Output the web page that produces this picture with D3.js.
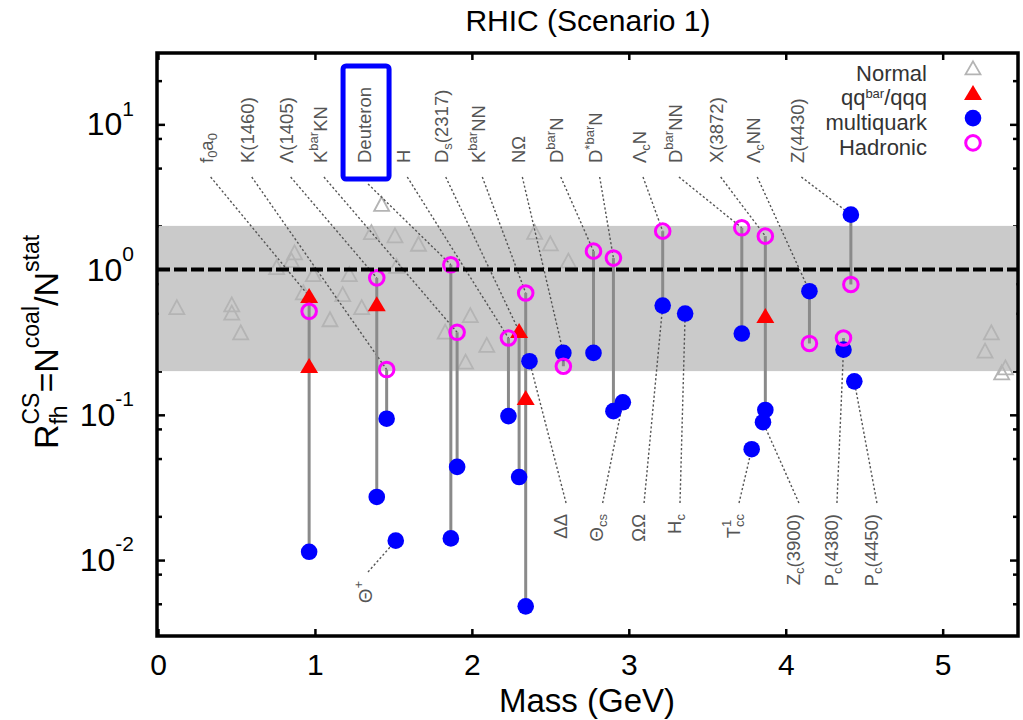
<!DOCTYPE html>
<html><head><meta charset="utf-8">
<script src="https://cdn.jsdelivr.net/npm/d3@7"></script>
<style>
body{margin:0;background:#fff}
svg{display:block}
text{font-family:"Liberation Sans",Arial,Helvetica,sans-serif}
</style>
</head><body>
<svg id="c" width="1023" height="720"></svg>
<script>
// ---------------- DATA ----------------
const chartTitle = "RHIC (Scenario 1)";
const xAxisTitle = "Mass (GeV)";
const yAxisTitle = "R_{fh}^{CS}=N^{coal}/N^{stat}";
const xTickValues = [0,1,2,3,4,5];
const yMajorTickValues = [0.01,0.1,1,10];
const yTickLabels = ["10^{-2}","10^{-1}","10^{0}","10^{1}"];
const yMinorTickValues = [0.005,0.008,0.02,0.05,0.08,0.2,0.5,0.8,2,5,8,20];
const bandRange = [0.2, 2];
const referenceLevel = 1;

// normal hadrons [mass GeV, ratio]
const normalHadrons = [
  [0.12,0.545],[0.47,0.57],[0.47,0.50],[0.527,0.366],[0.756,1.03],[0.85,1.15],[0.87,1.3],
  [0.926,0.69],[0.99,0.92],[1.096,0.45],[1.177,0.67],[1.219,0.92],[1.298,0.545],
  [1.36,1.79],[1.425,2.8],[1.51,1.7],[1.52,1.05],[1.66,1.49],[1.83,0.37],[1.96,0.23],
  [1.99,0.48],[2.095,0.30],[2.40,1.8],[2.50,1.5],[2.615,1.14],
  [5.27,0.274],[5.31,0.366],[5.376,0.194],[5.40,0.21]
];
// exotic candidates, [mass GeV, ratio]
const qqbarPoints = [
  [0.963,0.655],[0.963,0.216],[1.394,0.574],[2.301,0.376],[2.343,0.13],[3.87,0.477]
];
const multiquarkPoints = [
  [0.963,0.0114],[1.394,0.0272],[1.457,0.094],[1.515,0.0136],[1.866,0.0141],[1.906,0.0438],
  [2.233,0.098],[2.301,0.0373],[2.343,0.0048],[2.367,0.234],[2.583,0.267],[2.775,0.267],
  [2.902,0.106],[2.962,0.122],[3.216,0.565],[3.359,0.498],[3.72,0.363],[3.783,0.058],
  [3.855,0.089],[3.87,0.108],[4.151,0.71],[4.368,0.281],[4.415,2.39],[4.437,0.170]
];
const hadronicPoints = [
  [0.963,0.516],[1.394,0.877],[1.457,0.205],[1.866,1.08],[1.906,0.37],[2.233,0.338],
  [2.343,0.69],[2.583,0.216],[2.775,1.34],[2.902,1.20],[3.216,1.84],[3.72,1.94],
  [3.87,1.70],[4.151,0.31],[4.368,0.338],[4.415,0.79]
];
// labels: [text, label position (GeV), target mass, target ratio]
const topLabels = [
  ["f_{0}a_{0}",0.310,0.963,0.655],["K(1460)",0.572,1.457,0.205],["Λ(1405)",0.820,1.394,0.877],
  ["K^{bar}KN",1.032,1.906,0.37],["Deuteron",1.313,1.866,1.08],["H",1.563,2.233,0.338],
  ["D_{s}(2317)",1.808,2.301,0.376],["K^{bar}NN",2.041,2.343,0.69],["NΩ",2.296,2.583,0.267],
  ["D^{bar}N",2.541,2.775,1.34],["D^{*bar}N",2.789,2.902,1.20],["Λ_{c}N",3.065,3.216,1.84],
  ["D^{bar}NN",3.294,3.72,1.94],["X(3872)",3.560,3.87,1.70],["Λ_{c}NN",3.793,4.151,0.71],
  ["Z(4430)",4.074,4.415,2.39]
];
const bottomLabels = [
  ["ΔΔ",2.562,2.367,0.234],["Θ_{cs}",2.795,2.962,0.122],["ΩΩ",3.059,3.216,0.565],
  ["H_{c}",3.288,3.359,0.498],["T_{cc}^{1}",3.664,3.783,0.058],["Z_{c}(3900)",4.046,3.855,0.089],
  ["P_{c}(4380)",4.288,4.368,0.281],["P_{c}(4450)",4.543,4.437,0.170]
];
const thetaLabel = ["Θ^{+}",1.319,1.515,0.0136];
const boxedLabel = "Deuteron";
const legendEntries = ["Normal","qq^{bar}/qqq","multiquark","Hadronic"];

// ---------------- LAYOUT ----------------
const svg = d3.select("#c");
const P = {l:157,r:1018,t:53,b:636};
const x = d3.scaleLinear().domain([0,5.48]).range([158,1018]);
const y = d3.scaleLog().domain([0.003,31]).range([636,53]);

function parseRich(str){
  const segs=[];let i=0,buf='';
  while(i<str.length){
    const c=str[i];
    if((c==='_'||c==='^')&&str[i+1]==='{'){
      if(buf){segs.push({t:buf,k:'n'});buf='';}
      const j=str.indexOf('}',i);
      segs.push({t:str.slice(i+2,j),k:c==='_'?'sub':'sup'});
      i=j+1;
    } else {buf+=c;i++;}
  }
  if(buf)segs.push({t:buf,k:'n'});
  return segs;
}
function richText(parent,str,o){
  const segs=parseRich(str);
  const g=parent.append('g').attr('fill',o.fill||'#000');
  let cx=0,prev=null,stackStart=0;
  const items=[];
  segs.forEach(s=>{
    const sc=s.k!=='n';
    const fs=sc?o.script:o.size;
    const dy=s.k==='sup'?-o.size*(o.supUp||0.45):(s.k==='sub'?o.size*(o.subDown||0.22):0);
    let sx=cx;
    if(prev&&sc&&prev.k!=='n'&&prev.k!==s.k){sx=stackStart;}else{stackStart=cx;}
    const t=g.append('text').attr('x',sx).attr('y',dy).attr('font-size',fs).text(s.t);
    const w=t.node().getComputedTextLength();
    items.push([t,sx]);
    cx=Math.max(cx,sx+w);
    prev=s;
  });
  const shift=o.anchor==='end'?-cx:(o.anchor==='middle'?-cx/2:0);
  items.forEach(([t,sx])=>t.attr('x',sx+shift));
  return g;
}

// ---------------- AXES (ticks) ----------------
const gAx = svg.append('g');
gAx.append('g').attr('transform',`translate(0,${P.b})`)
  .call(d3.axisBottom(x).tickValues(xTickValues).tickSizeInner(-7).tickSizeOuter(0).tickPadding(18).tickFormat(d3.format('d')))
  .call(g=>{g.select('.domain').remove();g.selectAll('line').attr('stroke-width',2.5);
    g.selectAll('text').attr('font-size',30).attr('fill','#000').attr('font-family','"Liberation Sans",Arial,sans-serif');});
gAx.append('g').attr('transform',`translate(0,${P.t})`)
  .call(d3.axisTop(x).tickValues(xTickValues).tickSizeInner(-7).tickSizeOuter(0).tickFormat(''))
  .call(g=>{g.select('.domain').remove();g.selectAll('line').attr('stroke-width',2.5);});
[[d3.axisLeft,P.l,-8,yMajorTickValues],[d3.axisLeft,P.l,-5,yMinorTickValues],
 [d3.axisRight,P.r,-8,yMajorTickValues],[d3.axisRight,P.r,-5,yMinorTickValues]].forEach(([ax,px,len,vals])=>{
  gAx.append('g').attr('transform',`translate(${px},0)`)
    .call(ax(y).tickValues(vals).tickSizeInner(len).tickSizeOuter(0).tickFormat(''))
    .call(g=>{g.select('.domain').remove();g.selectAll('line').attr('stroke-width',2.5);});
});
// y tick labels
yMajorTickValues.forEach((v,i)=>{
  const g=svg.append('g').attr('transform',`translate(134,${y(v)+11})`);
  richText(g,yTickLabels[i],{size:32,script:21,anchor:'end',supUp:0.62});
});

// band
svg.append('rect').attr('x',P.l+1.5).attr('width',P.r-P.l-3)
  .attr('y',y(bandRange[1])).attr('height',y(bandRange[0])-y(bandRange[1]))
  .attr('fill','#cacaca');

// ---------------- MARKS ----------------
const triPath=(w,h)=>`M0,${-h*0.55}L${w/2},${h*0.45}L${-w/2},${h*0.45}Z`;
const gNormal=svg.append('g');
gNormal.selectAll('path').data(normalHadrons).join('path')
  .attr('d',triPath(15,14)).attr('transform',d=>`translate(${x(d[0])},${y(d[1])})`)
  .attr('fill','none').attr('stroke','#b4b4b4').attr('stroke-width',1.8);

// leaders
const gLead=svg.append('g').attr('stroke','#555').attr('stroke-width',1.4).attr('stroke-dasharray','2.2,2.2').attr('fill','none');
topLabels.forEach(d=>{
  const sy=d[0]===boxedLabel?184:177;
  gLead.append('line').attr('x1',x(d[1])+4).attr('y1',sy).attr('x2',x(d[2])).attr('y2',y(d[3]));
});
bottomLabels.forEach(d=>{
  gLead.append('line').attr('x1',x(d[1])+6).attr('y1',503).attr('x2',x(d[2])).attr('y2',y(d[3]));
});
gLead.append('line').attr('x1',x(thetaLabel[1])+3).attr('y1',572).attr('x2',x(thetaLabel[2])).attr('y2',y(thetaLabel[3]));

// vertical links between states of the same particle
const allExotic=[...qqbarPoints,...multiquarkPoints,...hadronicPoints];
const groups=d3.groups(allExotic,d=>d[0]).filter(g=>g[1].length>1);
svg.append('g').selectAll('line').data(groups).join('line')
  .attr('x1',d=>x(d[0])).attr('x2',d=>x(d[0]))
  .attr('y1',d=>y(d3.min(d[1],p=>p[1]))).attr('y2',d=>y(d3.max(d[1],p=>p[1])))
  .attr('stroke','#8a8a8a').attr('stroke-width',3);

svg.append('g').selectAll('path').data(qqbarPoints).join('path')
  .attr('d',triPath(18,15)).attr('transform',d=>`translate(${x(d[0])},${y(d[1])})`)
  .attr('fill','#ff0000');
svg.append('g').selectAll('circle').data(multiquarkPoints).join('circle')
  .attr('cx',d=>x(d[0])).attr('cy',d=>y(d[1])).attr('r',8.3).attr('fill','#0000ff');
svg.append('g').selectAll('circle').data(hadronicPoints).join('circle')
  .attr('cx',d=>x(d[0])).attr('cy',d=>y(d[1])).attr('r',7.3)
  .attr('fill','none').attr('stroke','#ff00ff').attr('stroke-width',3);

// reference dashed line
svg.append('line').attr('x1',P.l).attr('x2',P.r).attr('y1',y(referenceLevel)).attr('y2',y(referenceLevel))
  .attr('stroke','#000').attr('stroke-width',4).attr('stroke-dasharray','13,4');

// labels
const labFs=18.5, labSc=13;
topLabels.forEach(d=>{
  const lx=x(d[1]);
  const g=svg.append('g').attr('transform',`translate(${lx},163) rotate(-90) translate(0,${0.36*labFs})`);
  richText(g,d[0],{size:labFs,script:labSc,anchor:'start',fill:'#555'});
  if(d[0]===boxedLabel){
    svg.append('rect').attr('x',lx-21).attr('y',66).attr('width',46).attr('height',113)
      .attr('rx',3).attr('fill','none').attr('stroke','#0000ff').attr('stroke-width',5);
  }
});
bottomLabels.forEach(d=>{
  const g=svg.append('g').attr('transform',`translate(${x(d[1])},514) rotate(-90) translate(0,${0.36*labFs})`);
  richText(g,d[0],{size:labFs,script:labSc,anchor:'end',fill:'#555'});
});
{
  const g=svg.append('g').attr('transform',`translate(${x(thetaLabel[1])},581) rotate(-90) translate(0,${0.36*labFs})`);
  richText(g,thetaLabel[0],{size:labFs,script:labSc,anchor:'end',fill:'#555'});
}

// legend
const gLeg=svg.append('g');
legendEntries.forEach((t,i)=>{
  const sy=68.5+24.8*i;
  const g=gLeg.append('g').attr('transform',`translate(927,${sy+12})`);
  richText(g,t,{size:22,script:13,anchor:'end',fill:'#333',supUp:0.34});
  const s=gLeg.append('g').attr('transform',`translate(973,${sy})`);
  if(i===0) s.append('path').attr('d',triPath(15,13)).attr('fill','none').attr('stroke','#b4b4b4').attr('stroke-width',1.8);
  if(i===1) s.append('path').attr('d',triPath(18,15)).attr('fill','#ff0000');
  if(i===2) s.append('circle').attr('r',8.3).attr('fill','#0000ff');
  if(i===3) s.append('circle').attr('r',7.3).attr('fill','none').attr('stroke','#ff00ff').attr('stroke-width',3);
});

// frame
svg.append('rect').attr('x',P.l).attr('y',P.t).attr('width',P.r-P.l).attr('height',P.b-P.t)
  .attr('fill','none').attr('stroke','#000').attr('stroke-width',3.5);

// titles
svg.append('text').attr('x',588).attr('y',31).attr('text-anchor','middle').attr('font-size',30).text(chartTitle);
svg.append('text').attr('x',587).attr('y',712).attr('text-anchor','middle').attr('font-size',33).text(xAxisTitle);
{
  const g=svg.append('g').attr('transform',`translate(58,342) rotate(-90)`);
  richText(g,yAxisTitle,{size:34,script:23,anchor:'middle',supUp:0.55,subDown:0.25});
}
</script>
</body></html>
